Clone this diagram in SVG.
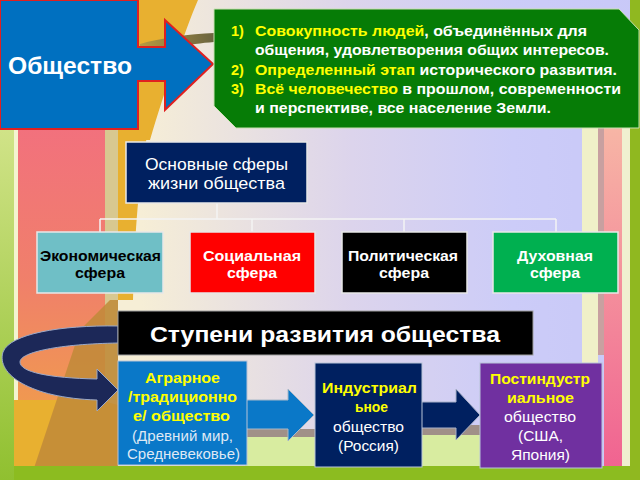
<svg xmlns="http://www.w3.org/2000/svg" width="640" height="480" viewBox="0 0 640 480">
<defs>
  <linearGradient id="bgH" x1="0" y1="0" x2="640" y2="0" gradientUnits="userSpaceOnUse">
    <stop offset="0.22" stop-color="#f6eed6"/>
    <stop offset="0.55" stop-color="#dcd4ec"/>
    <stop offset="0.8" stop-color="#ccccf8"/>
    <stop offset="1" stop-color="#c8c8f8"/>
  </linearGradient>
  <linearGradient id="leftGreen" x1="0" y1="0" x2="0" y2="1">
    <stop offset="0" stop-color="#e8f0a8"/>
    <stop offset="1" stop-color="#90c030"/>
  </linearGradient>
  <linearGradient id="pinkOrange" x1="0" y1="0" x2="0" y2="1">
    <stop offset="0" stop-color="#f2707e"/>
    <stop offset="0.45" stop-color="#f0806a"/>
    <stop offset="1" stop-color="#f0a840"/>
  </linearGradient>
  <linearGradient id="rightPink" x1="0" y1="0" x2="0" y2="1">
    <stop offset="0" stop-color="#f8c0a8"/>
    <stop offset="1" stop-color="#f06090"/>
  </linearGradient>
  <linearGradient id="olive" x1="0" y1="0" x2="1" y2="0">
    <stop offset="0" stop-color="#b89a40"/>
    <stop offset="1" stop-color="#6a6440"/>
  </linearGradient>
  <style>
    .t { font-family: "Liberation Sans", Arial, sans-serif; }
    .b { font-weight: bold; }
    .y { fill: #ffff00; }
    .w { fill: #ffffff; }
    .sph { stroke: #e8e8e8; stroke-width: 1.5; }
    .conn { stroke: #f4f4f4; stroke-width: 1.5; fill: none; }
    .stage { stroke: #b8c4d8; stroke-width: 1; }
  </style>
</defs>

<!-- background -->
<g id="background">
  <rect x="0" y="0" width="640" height="480" fill="url(#bgH)"/>
  <path d="M100 0 L198 0 C185 30 165 90 150 140 L100 140 Z" fill="#e8b030"/>
  <path d="M140 44 C160 38 190 34 214 33 L214 42 C190 44 160 48 140 60 Z" fill="url(#olive)"/>
  <rect x="0" y="0" width="14" height="480" fill="url(#leftGreen)"/>
  <rect x="14" y="120" width="4" height="360" fill="#f4f4d0"/>
  <rect x="18" y="120" width="87" height="360" fill="url(#pinkOrange)"/>
  <rect x="105" y="120" width="13" height="360" fill="#d8c890"/>
  <path d="M118 120 L150 120 C140 170 135 220 133 300 L118 300 Z" fill="#e8b030"/>
  <path d="M14 400 L100 400 L118 405 L118 480 L14 480 Z" fill="#e8b030"/>
  <path d="M30 480 L80 330 L110 300 L118 300 L118 480 Z" fill="#c08a38" opacity="0.85"/>
  <rect x="582" y="85" width="16" height="385" fill="#f0f0c8"/>
  <rect x="598" y="85" width="7" height="270" fill="#c8a0a0"/>
  <rect x="604" y="85" width="18" height="395" fill="url(#rightPink)"/>
  <rect x="622" y="85" width="8" height="395" fill="#f0f0d0"/>
  <rect x="630" y="0" width="10" height="480" fill="#90b820"/>
  <rect x="245" y="432" width="355" height="36" fill="#d8eca0"/>
  <rect x="245" y="429" width="70" height="8" fill="#a09088"/>
  <rect x="422" y="425" width="58" height="10" fill="#a09088"/>
  <rect x="14" y="466" width="616" height="14" fill="#8cbc20"/>
</g>

<!-- Общество callout -->
<g id="obshchestvo">
  <path d="M0 0 L138 0 L138 47 L165 47 L165 20 L213 64 L165 110 L165 81 L138 81 L138 129 L0 129 Z" fill="#0070c0" stroke="#e02020" stroke-width="2"/>
  <text class="t b w" x="70" y="74" font-size="23" text-anchor="middle" textLength="124" lengthAdjust="spacingAndGlyphs">Общество</text>
</g>

<!-- definitions box -->
<g id="definitions">
  <path d="M214 9 L619 9 L639 30 L639 128 L236 128 L214 106 Z" fill="#067c06" stroke="#c8e0b0" stroke-width="1"/>
  <g class="t b" font-size="14.5">
    <text class="y" x="231" y="36">1)</text>
    <text x="255" y="36" textLength="332" lengthAdjust="spacingAndGlyphs"><tspan class="y">Совокупность людей</tspan><tspan class="w">, объединённых для</tspan></text>
    <text class="w" x="255" y="55" textLength="354" lengthAdjust="spacingAndGlyphs">общения, удовлетворения общих интересов.</text>
    <text class="y" x="231" y="75">2)</text>
    <text x="255" y="75" textLength="362" lengthAdjust="spacingAndGlyphs"><tspan class="y">Определенный этап</tspan><tspan class="w"> исторического развития.</tspan></text>
    <text class="y" x="231" y="94">3)</text>
    <text x="255" y="94" textLength="366" lengthAdjust="spacingAndGlyphs"><tspan class="y">Всё человечество</tspan><tspan class="w"> в прошлом, современности</tspan></text>
    <text class="w" x="255" y="113" textLength="296" lengthAdjust="spacingAndGlyphs">и перспективе, все население Земли.</text>
  </g>
</g>

<!-- connectors -->
<g id="connectors">
  <path class="conn" d="M217 203 L217 219 M100 219 L556 219 M100 219 L100 232 M252 219 L252 232 M404 219 L404 232 M556 219 L556 232"/>
  <path d="M118 326 C60 325 10 334 3 352 C-4 374 30 398 97 400 L97 411 L118 390 L97 369 L97 379 C48 378 20 372 20 362 C20 352 60 344 118 343 Z" fill="#1c2858" stroke="#9aa8c8" stroke-width="1"/>
  <path d="M246 400 L288 400 L288 389 L314 415 L288 441 L288 429 L246 429 Z" fill="#0a78c8" stroke="#a8b8c8" stroke-width="1"/>
  <path d="M421 402 L456 402 L456 389 L480 415 L456 440 L456 428 L421 428 Z" fill="#002060" stroke="#a8b0c8" stroke-width="1"/>
</g>

<!-- spheres -->
<g id="spheres-root">
  <rect x="126" y="142" width="181" height="61" fill="#002060" class="sph"/>
  <text class="t w" x="216.5" y="170" font-size="17" text-anchor="middle" textLength="143" lengthAdjust="spacingAndGlyphs">Основные сферы</text>
  <text class="t w" x="216.5" y="189" font-size="17" text-anchor="middle" textLength="137" lengthAdjust="spacingAndGlyphs">жизни общества</text>
</g>
<g id="sphere-economic">
  <rect x="37" y="232" width="126" height="61" fill="#6fbfc6" class="sph"/>
  <text class="t b" x="100.5" y="261" font-size="15" text-anchor="middle" fill="#000" textLength="121" lengthAdjust="spacingAndGlyphs">Экономическая</text>
  <text class="t b" x="100" y="278" font-size="15" text-anchor="middle" fill="#000" textLength="50" lengthAdjust="spacingAndGlyphs">сфера</text>
</g>
<g id="sphere-social">
  <rect x="190" y="232" width="125" height="61" fill="#ff0000" class="sph"/>
  <text class="t b w" x="252" y="261" font-size="15" text-anchor="middle" textLength="98" lengthAdjust="spacingAndGlyphs">Социальная</text>
  <text class="t b w" x="252" y="278" font-size="15" text-anchor="middle" textLength="50" lengthAdjust="spacingAndGlyphs">сфера</text>
</g>
<g id="sphere-political">
  <rect x="342" y="232" width="125" height="61" fill="#000000" class="sph"/>
  <text class="t b w" x="403" y="261" font-size="15" text-anchor="middle" textLength="110" lengthAdjust="spacingAndGlyphs">Политическая</text>
  <text class="t b w" x="404" y="278" font-size="15" text-anchor="middle" textLength="50" lengthAdjust="spacingAndGlyphs">сфера</text>
</g>
<g id="sphere-spiritual">
  <rect x="493" y="232" width="125" height="61" fill="#00b050" class="sph"/>
  <text class="t b w" x="555" y="261" font-size="15" text-anchor="middle" textLength="76" lengthAdjust="spacingAndGlyphs">Духовная</text>
  <text class="t b w" x="555" y="278" font-size="15" text-anchor="middle" textLength="50" lengthAdjust="spacingAndGlyphs">сфера</text>
</g>

<!-- stages -->
<g id="stages-title">
  <rect x="118" y="311" width="415" height="44" fill="#000000" stroke="#a0a0a0" stroke-width="1"/>
  <text class="t b w" x="325" y="342" font-size="22" text-anchor="middle" textLength="350" lengthAdjust="spacingAndGlyphs">Ступени развития общества</text>
</g>
<g id="stage-agrarian">
  <rect x="118" y="361" width="129" height="104" fill="#0a78c8" class="stage"/>
  <g class="t" text-anchor="middle" lengthAdjust="spacingAndGlyphs">
    <text class="b y" x="182.5" y="383" font-size="14.5" textLength="75" lengthAdjust="spacingAndGlyphs">Аграрное</text>
    <text class="b y" x="182.5" y="402" font-size="14.5" textLength="109" lengthAdjust="spacingAndGlyphs">/традиционно</text>
    <text class="b y" x="181.5" y="421" font-size="14.5" textLength="97" lengthAdjust="spacingAndGlyphs">е/ общество</text>
    <text x="182.5" y="441" font-size="14" fill="#dfe8f4" textLength="101" lengthAdjust="spacingAndGlyphs">(Древний мир,</text>
    <text x="183.5" y="459" font-size="14" fill="#dfe8f4" textLength="113" lengthAdjust="spacingAndGlyphs">Средневековье)</text>
  </g>
</g>
<g id="stage-industrial">
  <rect x="315" y="363" width="107" height="104" fill="#002060" class="stage"/>
  <g class="t" text-anchor="middle">
    <text class="b y" x="369.5" y="393" font-size="14.5" textLength="95" lengthAdjust="spacingAndGlyphs">Индустриал</text>
    <text class="b y" x="371.5" y="412" font-size="14.5" textLength="33" lengthAdjust="spacingAndGlyphs">ьное</text>
    <text class="w" x="368.5" y="432" font-size="14.5" textLength="71" lengthAdjust="spacingAndGlyphs">общество</text>
    <text class="w" x="368.5" y="451" font-size="14.5" textLength="61" lengthAdjust="spacingAndGlyphs">(Россия)</text>
  </g>
</g>
<g id="stage-postindustrial">
  <rect x="480" y="363" width="122" height="105" fill="#7030a0" class="stage"/>
  <g class="t" text-anchor="middle">
    <text class="b y" x="540" y="384" font-size="14.5" textLength="100" lengthAdjust="spacingAndGlyphs">Постиндустр</text>
    <text class="b y" x="540.5" y="403" font-size="14.5" textLength="67" lengthAdjust="spacingAndGlyphs">иальное</text>
    <text class="w" x="540" y="422" font-size="14.5" textLength="72" lengthAdjust="spacingAndGlyphs">общество</text>
    <text class="w" x="540.5" y="441" font-size="14.5" textLength="45" lengthAdjust="spacingAndGlyphs">(США,</text>
    <text class="w" x="540.5" y="460" font-size="14.5" textLength="59" lengthAdjust="spacingAndGlyphs">Япония)</text>
  </g>
</g>
</svg>
